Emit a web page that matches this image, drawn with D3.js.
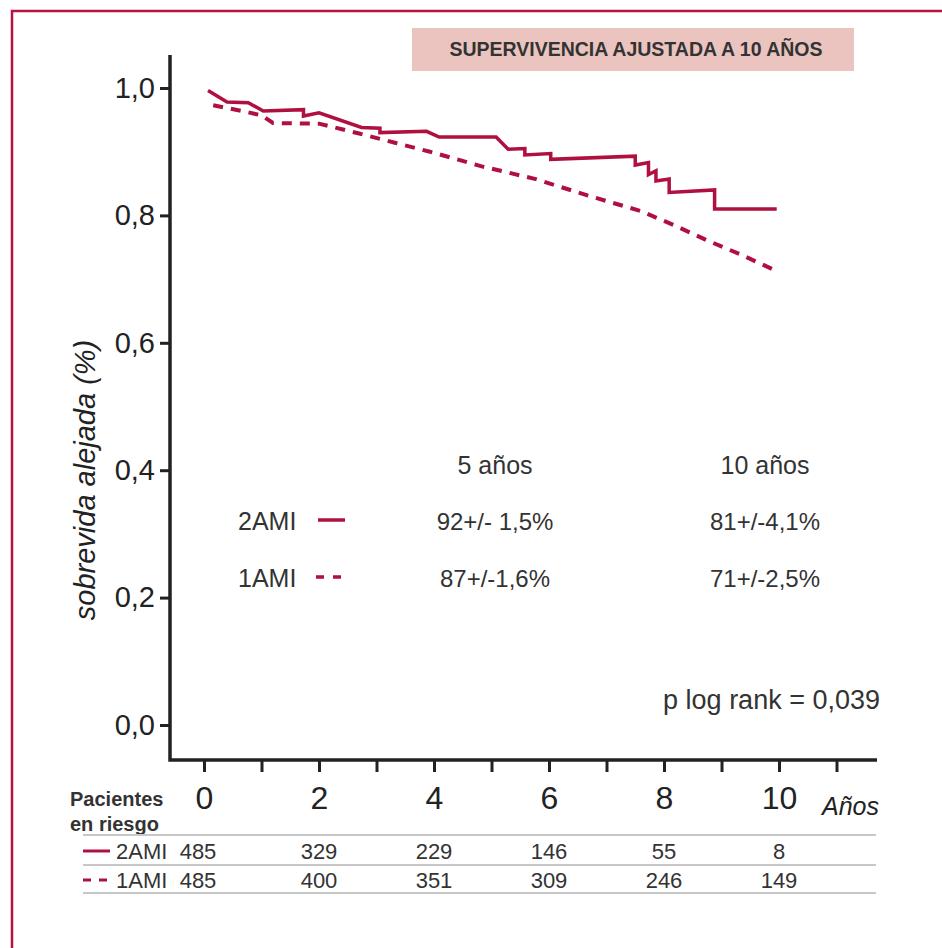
<!DOCTYPE html>
<html>
<head>
<meta charset="utf-8">
<script src="https://cdn.jsdelivr.net/npm/d3@7"></script>
<style>
  body { margin: 0; background: #fff; }
  svg { display: block; font-family: "Liberation Sans", Arial, sans-serif; }
</style>
</head>
<body>
<div id="wrapper"></div>
<script>
// curva 2AMI (continua), años / supervivencia
const twoAmi = [
  [0.07, 0.996], [0.40, 0.978], [0.77, 0.977], [1.03, 0.964], [1.73, 0.966], [1.73, 0.956],
  [2.00, 0.961], [2.74, 0.938], [3.06, 0.937], [3.06, 0.930], [3.87, 0.932], [4.09, 0.923],
  [5.08, 0.923], [5.29, 0.904], [5.58, 0.905], [5.58, 0.895], [6.03, 0.897], [6.03, 0.888],
  [7.50, 0.893], [7.50, 0.879], [7.73, 0.883], [7.73, 0.864], [7.86, 0.870], [7.86, 0.854],
  [8.09, 0.857], [8.09, 0.836], [8.88, 0.840], [8.88, 0.810], [9.96, 0.810]
];
// curva 1AMI (discontinua)
const oneAmi = [
  [0.16, 0.973], [0.71, 0.963], [1.00, 0.957], [1.20, 0.945], [2.00, 0.944], [2.68, 0.929],
  [3.32, 0.914], [3.93, 0.900], [4.83, 0.877], [5.77, 0.857], [6.68, 0.831], [7.59, 0.807],
  [8.19, 0.784], [8.77, 0.760], [9.35, 0.738], [9.90, 0.715]
];

const yTicks = [0, 0.2, 0.4, 0.6, 0.8, 1.0];
const xTicks = d3.range(0, 12);
const riskYears = [0, 2, 4, 6, 8, 10];
const riskTwoAmi = [485, 329, 229, 146, 55, 8];
const riskOneAmi = [485, 400, 351, 309, 246, 149];
const summaryCols = ["5 años", "10 años"];
const summaryTwoAmi = ["92+/- 1,5%", "81+/-4,1%"];
const summaryOneAmi = ["87+/-1,6%", "71+/-2,5%"];

const red = "#b0103f";
const ink = "#222";

const width = 942, height = 948;
const svg = d3.select("#wrapper").append("svg")
  .attr("width", width)
  .attr("height", height);

// marco
svg.append("path")
  .attr("d", `M12,${height} L12,11 L${width},11`)
  .attr("fill", "none")
  .attr("stroke", "#b5123e")
  .attr("stroke-width", 2.5);

// titulo
svg.append("rect")
  .attr("x", 412).attr("y", 28)
  .attr("width", 442).attr("height", 43)
  .attr("fill", "#ebc4bf");
svg.append("text")
  .attr("x", 636).attr("y", 56)
  .attr("text-anchor", "middle")
  .style("font-weight", "bold")
  .style("font-size", "19.5px")
  .attr("fill", "#333")
  .text("SUPERVIVENCIA AJUSTADA A 10 AÑOS");

const xScale = d3.scaleLinear().domain([0, 10]).range([204, 779]);
const yScale = d3.scaleLinear().domain([0, 1]).range([725, 88]);

// eje y
const yAxis = svg.append("g")
  .attr("transform", "translate(170,0)")
  .call(d3.axisLeft(yScale).tickValues(yTicks).tickSize(10).tickPadding(5)
    .tickFormat(d => d.toFixed(1).replace(".", ",")));
yAxis.select(".domain").remove();
yAxis.selectAll(".tick line").attr("stroke", ink).attr("stroke-width", 3);
yAxis.selectAll(".tick text").attr("fill", ink).style("font-size", "29px");

// eje x
const xAxis = svg.append("g")
  .attr("transform", "translate(0,760)")
  .call(d3.axisBottom(xScale).tickValues(xTicks).tickSize(12).tickPadding(14)
    .tickFormat(d => (d % 2 === 0 && d <= 10) ? d : ""));
xAxis.select(".domain").remove();
xAxis.selectAll(".tick line").attr("stroke", ink).attr("stroke-width", 3);
xAxis.selectAll(".tick text").attr("fill", ink)
  .style("font-size", "32px");

// lineas de los ejes
svg.append("path")
  .attr("d", "M170,55 L170,760 L877,760")
  .attr("fill", "none")
  .attr("stroke", ink)
  .attr("stroke-width", 3.5);

svg.append("text")
  .attr("x", 822).attr("y", 815)
  .style("font-style", "italic").style("font-size", "25px")
  .attr("fill", ink)
  .text("Años");

svg.append("text")
  .attr("transform", `translate(95,${480}) rotate(-90)`)
  .attr("text-anchor", "middle")
  .style("font-style", "italic").style("font-size", "29px")
  .attr("fill", ink)
  .text("sobrevida alejada (%)");

// curvas
const line = d3.line().x(d => xScale(d[0])).y(d => yScale(d[1]));
svg.append("path")
  .datum(twoAmi)
  .attr("d", line)
  .attr("fill", "none")
  .attr("stroke", red)
  .attr("stroke-width", 3.5)
  .attr("stroke-linejoin", "miter");
svg.append("path")
  .datum(oneAmi)
  .attr("d", line)
  .attr("fill", "none")
  .attr("stroke", red)
  .attr("stroke-width", 4)
  .attr("stroke-dasharray", "10,8");

// leyenda con resultados
const colX = [495, 765];
const summary = svg.append("g").attr("fill", "#333").style("font-size", "24px");
summary.selectAll("text.col")
  .data(summaryCols)
  .join("text")
  .attr("class", "col")
  .attr("x", (d, i) => colX[i]).attr("y", 474)
  .attr("text-anchor", "middle")
  .style("font-size", "25px")
  .text(d => d);
summary.selectAll("text.v2")
  .data(summaryTwoAmi)
  .join("text")
  .attr("class", "v2")
  .attr("x", (d, i) => colX[i]).attr("y", 530)
  .attr("text-anchor", "middle")
  .text(d => d);
summary.selectAll("text.v1")
  .data(summaryOneAmi)
  .join("text")
  .attr("class", "v1")
  .attr("x", (d, i) => colX[i]).attr("y", 587)
  .attr("text-anchor", "middle")
  .text(d => d);
summary.append("text").attr("x", 238).attr("y", 530).style("font-size", "25px").text("2AMI");
summary.append("text").attr("x", 238).attr("y", 587).style("font-size", "25px").text("1AMI");
svg.append("line").attr("x1", 318).attr("x2", 345).attr("y1", 520).attr("y2", 520)
  .attr("stroke", red).attr("stroke-width", 3.5);
svg.append("line").attr("x1", 316).attr("x2", 345).attr("y1", 577).attr("y2", 577)
  .attr("stroke", red).attr("stroke-width", 3.5).attr("stroke-dasharray", "8,9");

svg.append("text")
  .attr("x", 880).attr("y", 709)
  .attr("text-anchor", "end")
  .attr("fill", "#333")
  .style("font-size", "27px")
  .text("p log rank = 0,039");

// pacientes en riesgo
const table = svg.append("g").attr("fill", "#333");
table.append("text").attr("x", 70).attr("y", 806)
  .style("font-weight", "bold").style("font-size", "20px").text("Pacientes");
table.append("text").attr("x", 70).attr("y", 831)
  .style("font-weight", "bold").style("font-size", "20px").text("en riesgo");

[835, 865, 893].forEach(yy => {
  svg.append("line").attr("x1", 83).attr("x2", 876).attr("y1", yy).attr("y2", yy)
    .attr("stroke", "#c8c8c8").attr("stroke-width", 2);
});

const rows = [
  { name: "2AMI", values: riskTwoAmi, y: 859, dash: null },
  { name: "1AMI", values: riskOneAmi, y: 888, dash: "8,8" }
];
rows.forEach(r => {
  svg.append("line").attr("x1", 83).attr("x2", 110).attr("y1", r.y - 8).attr("y2", r.y - 8)
    .attr("stroke", red).attr("stroke-width", 3)
    .attr("stroke-dasharray", r.dash);
  table.append("text").attr("x", 116).attr("y", r.y)
    .style("font-size", "22px").text(r.name);
  table.selectAll(null)
    .data(r.values)
    .join("text")
    .attr("x", (d, i) => xScale(riskYears[i]) - (i === 0 ? 6 : 0))
    .attr("y", r.y)
    .attr("text-anchor", "middle")
    .style("font-size", "22px")
    .text(d => d);
});
</script>
</body>
</html>
